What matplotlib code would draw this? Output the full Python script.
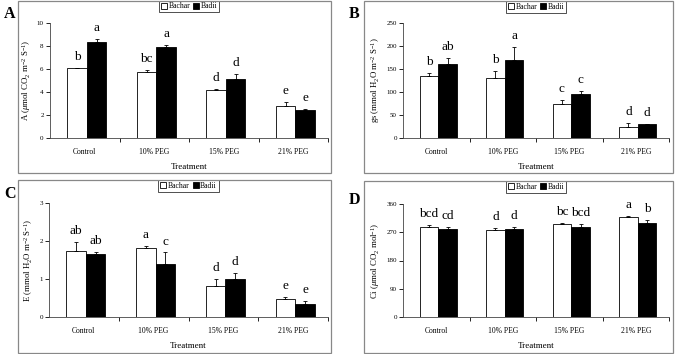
import numpy as np
import matplotlib.pyplot as plt
from matplotlib.patches import Rectangle

plt.rcParams['font.family'] = ['Liberation Serif', 'DejaVu Serif']
plt.rcParams['mathtext.fontset'] = 'custom'
plt.rcParams['mathtext.rm'] = 'Liberation Serif'
plt.rcParams['mathtext.it'] = 'Liberation Serif:italic'

treatments = ["Control", "10% PEG", "15% PEG", "21% PEG"]
cultivars = ["Bachar", "Badii"]

# panel A: net photosynthesis
a_bachar = [6.05, 5.7, 4.15, 2.75]
a_badii = [8.35, 7.9, 5.1, 2.4]
a_bachar_err = [0.08, 0.2, 0.08, 0.35]
a_badii_err = [0.3, 0.2, 0.45, 0.15]
a_bachar_lbl = ["b", "bc", "d", "e"]
a_badii_lbl = ["a", "a", "d", "e"]

# panel B: stomatal conductance
gs_bachar = [135, 130, 75, 25]
gs_badii = [160, 170, 95, 30]
gs_bachar_err = [7, 15, 7, 8]
gs_badii_err = [15, 28, 7, 1]
gs_bachar_lbl = ["b", "b", "c", "d"]
gs_badii_lbl = ["ab", "a", "c", "d"]

# panel C: transpiration
e_bachar = [1.75, 1.82, 0.82, 0.47]
e_badii = [1.65, 1.4, 1.0, 0.35]
e_bachar_err = [0.22, 0.04, 0.18, 0.05]
e_badii_err = [0.07, 0.3, 0.15, 0.07]
e_bachar_lbl = ["ab", "a", "d", "e"]
e_badii_lbl = ["ab", "c", "d", "e"]

# panel D: intercellular CO2
ci_bachar = [287, 277, 295, 318]
ci_badii = [281, 280, 288, 298]
ci_bachar_err = [7, 7, 4, 5]
ci_badii_err = [6, 8, 8, 10]
ci_bachar_lbl = ["bcd", "d", "bc", "a"]
ci_badii_lbl = ["cd", "d", "bcd", "b"]

W, H = 676, 354
fig = plt.figure(figsize=(W / 100, H / 100), dpi=100)


def px_axes(l, t, r, b):
    return fig.add_axes([l / W, 1 - b / H, (r - l) / W, (b - t) / H])


def frame(l, t, r, b):
    fig.patches.append(Rectangle((l / W, 1 - b / H), (r - l) / W, (b - t) / H,
                                 transform=fig.transFigure, fill=False,
                                 edgecolor='#888888', linewidth=0.9))


def panel(ax, v1, v2, e1, e2, l1, l2, ymax, step, ylabel, leg_y):
    x = np.arange(len(treatments))
    w = 0.28
    ax.bar(x - w / 2 + 0.03, v1, w, color='white', edgecolor='black',
           linewidth=0.6, label=cultivars[0])
    ax.bar(x + w / 2 + 0.03, v2, w, color='black', edgecolor='black',
           linewidth=0.6, label=cultivars[1])
    ax.errorbar(x - w / 2 + 0.03, v1, yerr=[np.zeros(4), e1], fmt='none',
                ecolor='black', elinewidth=0.6, capsize=1.5, capthick=0.6)
    ax.errorbar(x + w / 2 + 0.03, v2, yerr=[np.zeros(4), e2], fmt='none',
                ecolor='black', elinewidth=0.6, capsize=1.5, capthick=0.6)
    for i in range(4):
        ax.annotate(l1[i], (x[i] - w / 2 + 0.03, v1[i] + e1[i]),
                    xytext=(0, 3.5), textcoords='offset points',
                    ha='center', va='bottom', fontsize=9.5)
        ax.annotate(l2[i], (x[i] + w / 2 + 0.03, v2[i] + e2[i]),
                    xytext=(0, 3.5), textcoords='offset points',
                    ha='center', va='bottom', fontsize=9.5)
    ax.set_xlim(-0.5, 3.5)
    ax.set_ylim(0, ymax)
    ax.set_yticks(np.arange(0, ymax + step / 2, step))
    ax.set_xticks(x)
    ax.set_xticklabels(treatments, fontsize=5.5)
    ax.set_xticks([0.5, 1.5, 2.5, 3.5], minor=True)
    ax.tick_params(axis='x', which='major', length=0, pad=7)
    ax.tick_params(axis='x', which='minor', length=3, width=0.6)
    ax.tick_params(axis='y', labelsize=5, length=3, width=0.6, pad=1.5)
    for s in ['top', 'right']:
        ax.spines[s].set_visible(False)
    for s in ['left', 'bottom']:
        ax.spines[s].set_linewidth(0.6)
        ax.spines[s].set_color('#444444')
    ax.set_xlabel("Treatment", fontsize=6.5, labelpad=5)
    ax.set_ylabel(ylabel, fontsize=6.3, labelpad=3)
    bb = ax.get_position()
    leg = ax.legend(loc='center',
                    bbox_to_anchor=((bb.x0 + bb.x1) / 2, 1 - leg_y / H),
                    bbox_transform=fig.transFigure, ncol=2,
                    fontsize=5.5, frameon=True, fancybox=False,
                    handlelength=0.8, handleheight=0.8, handletextpad=0.2,
                    columnspacing=0.4, borderpad=0.25, borderaxespad=0)
    leg.get_frame().set_edgecolor('black')
    leg.get_frame().set_linewidth(0.6)


frame(18, 1, 331, 173)
frame(364, 1, 673, 173)
frame(18, 180, 331, 353)
frame(364, 181, 673, 353)

axA = px_axes(50, 23, 328, 138)
panel(axA, a_bachar, a_badii, a_bachar_err, a_badii_err, a_bachar_lbl,
      a_badii_lbl, 10, 2, r"A ($\mu$mol CO$_2$ m$^{-2}$ S$^{-1}$)", 6.5)

axB = px_axes(403, 23, 669, 138)
panel(axB, gs_bachar, gs_badii, gs_bachar_err, gs_badii_err, gs_bachar_lbl,
      gs_badii_lbl, 250, 50, r"gs (mmol H$_2$O m$^{-2}$ S$^{-1}$)", 7)

axC = px_axes(49, 203, 328, 317)
panel(axC, e_bachar, e_badii, e_bachar_err, e_badii_err, e_bachar_lbl,
      e_badii_lbl, 3, 1, r"E (mmol H$_2$O m$^{-2}$ S$^{-1}$)", 186)

axD = px_axes(403, 204, 669, 317)
panel(axD, ci_bachar, ci_badii, ci_bachar_err, ci_badii_err, ci_bachar_lbl,
      ci_badii_lbl, 360, 90, r"Ci ($\mu$mol CO$_2$ mol$^{-1}$)", 187)

for lab, xp, yp in [("A", 4, 14), ("B", 349, 14), ("C", 4, 194), ("D", 349, 200)]:
    fig.text(xp / W, 1 - yp / H, lab, fontsize=11.5, fontweight='bold',
             va='center', ha='left')

fig.savefig("out.png", dpi=100)
